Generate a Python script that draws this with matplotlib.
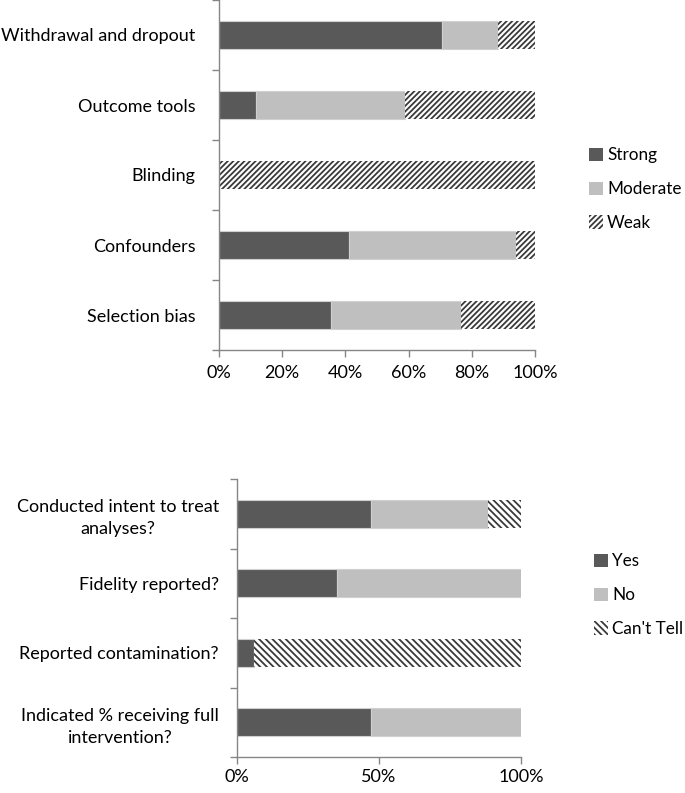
import matplotlib.pyplot as plt
from matplotlib.patches import Patch
from matplotlib.ticker import PercentFormatter

# Obere Grafik: Qualitätsbewertung
quality_cats = ["Withdrawal and dropout", "Outcome tools", "Blinding", "Confounders", "Selection bias"]
strong = [70.6, 11.8, 0.0, 41.2, 35.3]
moderate = [17.6, 47.1, 0.0, 52.9, 41.2]
weak = [11.8, 41.1, 100.0, 5.9, 23.5]

# Untere Grafik: Intervention
interv_cats = ["Conducted intent to treat\nanalyses?", "Fidelity reported?",
               "Reported contamination?", "Indicated % receiving full\nintervention?"]
yes = [47.1, 35.3, 5.9, 47.1]
no = [41.2, 64.7, 0.0, 52.9]
cant_tell = [11.7, 0.0, 94.1, 0.0]

DARK = "#595959"
LIGHT = "#bfbfbf"
HATCH_C = "#3a3a3a"
SPINE = "#868686"
FS = 13

plt.rcParams["font.family"] = ["Lato", "DejaVu Sans"]
plt.rcParams["hatch.color"] = HATCH_C
plt.rcParams["hatch.linewidth"] = 1.3

W, H = 685, 793
fig = plt.figure(figsize=(W / 100, H / 100), dpi=100)


def px_axes(x0, y0, x1, y1):
    return fig.add_axes([x0 / W, 1 - y1 / H, (x1 - x0) / W, (y1 - y0) / H])


def style_axes(ax, cats, ticks, ypad, xpad):
    n = len(cats)
    ax.set_xlim(0, 100)
    ax.set_ylim(n - 0.5, -0.5)
    ax.set_yticks(range(n))
    ax.set_yticklabels(cats, fontsize=FS, multialignment="center", linespacing=1.45)
    ax.set_yticks([i - 0.5 for i in range(n + 1)], minor=True)
    ax.tick_params(axis="y", which="major", length=0, pad=ypad)
    ax.tick_params(axis="y", which="minor", length=5, color=SPINE, width=1)
    ax.set_xticks(ticks)
    ax.xaxis.set_major_formatter(PercentFormatter(decimals=0))
    ax.tick_params(axis="x", length=5, color=SPINE, width=1, labelsize=FS, pad=xpad)
    for s in ["top", "right"]:
        ax.spines[s].set_visible(False)
    for s in ["left", "bottom"]:
        ax.spines[s].set_color(SPINE)
        ax.spines[s].set_linewidth(1)


def stacked(ax, cats, series, styles):
    left = [0.0] * len(cats)
    ypos = list(range(len(cats)))
    for vals, (fc, hatch) in zip(series, styles):
        ax.barh(ypos, vals, left=left, height=0.4, color=fc, hatch=hatch,
                edgecolor=HATCH_C if hatch else "#d0d0d0", linewidth=0 if hatch else 0.8)
        left = [a + b for a, b in zip(left, vals)]


ax1 = px_axes(219, 0, 535, 350)
stacked(ax1, quality_cats, [strong, moderate, weak],
        [(DARK, None), (LIGHT, None), ("white", "//////")])
style_axes(ax1, quality_cats, [0, 20, 40, 60, 80, 100], 17, 6)

ax2 = px_axes(237, 479, 521, 757)
stacked(ax2, interv_cats, [yes, no, cant_tell],
        [(DARK, None), (LIGHT, None), ("white", "\\\\\\\\\\")])
style_axes(ax2, interv_cats, [0, 50, 100], 13, 4)

leg_kw = dict(frameon=False, fontsize=12.3, handlelength=0.8, handleheight=0.8,
              handletextpad=0.25, labelspacing=1.05, borderpad=0, borderaxespad=0)
h1 = [Patch(facecolor=DARK), Patch(facecolor=LIGHT),
      Patch(facecolor="white", hatch="//////", edgecolor=HATCH_C, linewidth=0)]
fig.legend(h1, ["Strong", "Moderate", "Weak"], loc="center left",
           bbox_to_anchor=(589 / W, 1 - 189 / H), **leg_kw)
h2 = [Patch(facecolor=DARK), Patch(facecolor=LIGHT),
      Patch(facecolor="white", hatch="\\\\\\\\\\", edgecolor=HATCH_C, linewidth=0)]
fig.legend(h2, ["Yes", "No", "Can't Tell"], loc="center left",
           bbox_to_anchor=(594 / W, 1 - 595 / H), **leg_kw)

fig.savefig("out.png", dpi=100)
